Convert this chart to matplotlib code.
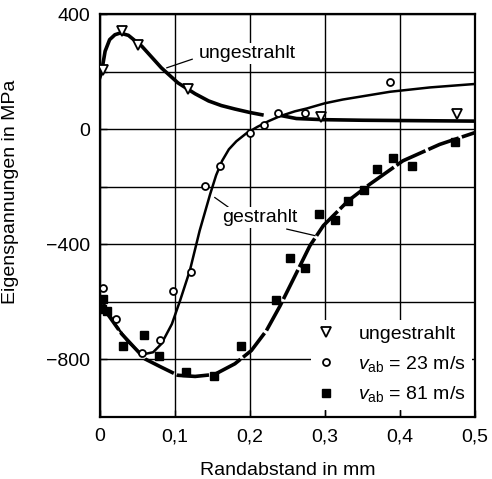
import matplotlib
matplotlib.use("Agg")
import matplotlib.pyplot as plt
from matplotlib.lines import Line2D

plt.rcParams['font.family'] = ['Liberation Sans', 'DejaVu Sans']
plt.rcParams['mathtext.fontset'] = 'custom'
plt.rcParams['mathtext.rm'] = 'Liberation Sans'
plt.rcParams['mathtext.it'] = 'Liberation Sans:italic'

# measured points
ung_x = [0.004, 0.029, 0.051, 0.118, 0.295, 0.476]
ung_y = [207, 340, 294, 138, 43, 54]

v23_x = [0.004, 0.021, 0.056, 0.080, 0.098, 0.121, 0.140, 0.160, 0.200, 0.219, 0.238, 0.273, 0.387]
v23_y = [-553, -661, -777, -731, -561, -497, -199, -128, -15, 13, 55, 57, 164]

v81_x = [0.004, 0.003, 0.010, 0.031, 0.059, 0.079, 0.115, 0.152, 0.188, 0.235, 0.254, 0.274,
         0.292, 0.314, 0.331, 0.352, 0.370, 0.391, 0.416, 0.474]
v81_y = [-590, -625, -630, -752, -715, -789, -842, -859, -755, -595, -449, -484,
         -295, -316, -249, -212, -139, -99, -128, -43]

# fitted curves
ung_c1_x = [0.0, 0.002, 0.007, 0.013, 0.020, 0.027, 0.038, 0.056, 0.082, 0.104, 0.127,
            0.145, 0.162, 0.180, 0.200, 0.216]
ung_c1_y = [180, 195, 271, 311, 328, 334, 326, 288, 213, 161, 123, 98, 82, 70, 58, 50]
ung_c2_x = [0.244, 0.262, 0.298, 0.35, 0.40, 0.45, 0.5]
ung_c2_y = [46, 37, 33, 31, 30, 29, 28]

c23_x = [0.0, 0.002, 0.020, 0.038, 0.056, 0.071, 0.082, 0.096, 0.107, 0.120, 0.133, 0.147,
         0.155, 0.163, 0.172, 0.182, 0.195, 0.210, 0.225, 0.240, 0.260, 0.276, 0.300,
         0.324, 0.387, 0.44, 0.5]
c23_y = [-580, -590, -677, -740, -783, -775, -746, -677, -595, -491, -353, -226,
         -160, -110, -70, -42, -15, 8, 28, 45, 62, 72, 90, 103, 130, 145, 157]

c81_x = [0.0, 0.004, 0.029, 0.060, 0.082, 0.104, 0.127, 0.153, 0.180, 0.202, 0.222, 0.240,
         0.262, 0.280, 0.298, 0.331, 0.360, 0.404, 0.453, 0.5]
c81_y = [-605, -619, -711, -798, -827, -855, -859, -852, -815, -769, -700, -615,
         -500, -405, -335, -249, -191, -110, -53, -12]

x_ticks = [0, 0.1, 0.2, 0.3, 0.4, 0.5]
x_labels = ['0', '0,1', '0,2', '0,3', '0,4', '0,5']
y_ticks = [-800, -600, -400, -200, 0, 200, 400]
y_labels = ['\u2212800', '', '\u2212400', '', '0', '', '400']

fig = plt.figure(figsize=(4.92, 4.79), dpi=100)
ax = fig.add_axes([0.203, 0.1294, 0.7622, 0.8413])

ax.set_xlim(0, 0.5)
ax.set_ylim(-1000, 400)
ax.set_xticks(x_ticks)
ax.set_xticklabels(x_labels)
ax.set_yticks(y_ticks)
ax.set_yticklabels(y_labels)
ax.grid(color='black', lw=1.0, zorder=0)
ax.set_axisbelow(True)
ax.tick_params(axis='both', direction='in', length=5, width=1, labelsize=14)
ax.tick_params(axis='x', pad=8)
ax.tick_params(axis='y', pad=7)
for s in ax.spines.values():
    s.set_linewidth(1.6)

ax.set_xlabel('Randabstand in mm', fontsize=14, labelpad=12)
ax.set_ylabel('Eigenspannungen in MPa', fontsize=14)
ax.yaxis.set_label_coords(-0.215, 0.558)

# curves
ax.plot(ung_c1_x, ung_c1_y, color='black', lw=2.6, zorder=3)
ax.plot(ung_c2_x, ung_c2_y, color='black', lw=2.6, zorder=3)
ax.plot(c23_x, c23_y, color='black', lw=1.8, zorder=3)
ax.plot(c81_x, c81_y, color='black', lw=2.6, ls=(0, (9, 0.9)), zorder=3)

# points
ax.plot(ung_x, ung_y, 'v', ms=7.5, mfc='white', mec='black', mew=1.3, zorder=4)
ax.plot(v23_x, v23_y, 'o', ms=5, mfc='white', mec='black', mew=1.3, zorder=4)
ax.plot(v81_x, v81_y, 's', ms=5.5, mfc='black', mec='black', zorder=4)

# labels on the curves
ax.annotate('ungestrahlt', xy=(0.089, 213), xytext=(0.196, 262), fontsize=14,
            ha='center', va='center', zorder=2,
            bbox=dict(boxstyle='square,pad=0.1', fc='white', ec='none'),
            arrowprops=dict(arrowstyle='-', color='black', lw=0.9, shrinkA=3, shrinkB=0,
                            relpos=(0.0, 0.3)))
ax.annotate('gestrahlt', xy=(0.153, -237), xytext=(0.213, -307), fontsize=14,
            ha='center', va='center', zorder=2,
            bbox=dict(boxstyle='square,pad=0.1', fc='white', ec='none'),
            arrowprops=dict(arrowstyle='-', color='black', lw=0.9, shrinkA=0, shrinkB=0,
                            relpos=(0.12, 1.0)))
ax.annotate('', xy=(0.287, -370), xytext=(0.249, -347), zorder=2,
            arrowprops=dict(arrowstyle='-', color='black', lw=0.9, shrinkA=0, shrinkB=0))

handles = [
    Line2D([], [], ls='none', marker='v', ms=7.5, mfc='white', mec='black', mew=1.3),
    Line2D([], [], ls='none', marker='o', ms=5, mfc='white', mec='black', mew=1.3),
    Line2D([], [], ls='none', marker='s', ms=5.5, mfc='black', mec='black'),
]
labels = ['ungestrahlt', '$v_{\\mathrm{ab}}$ = 23 m/s', '$v_{\\mathrm{ab}}$ = 81 m/s']
leg = ax.legend(handles, labels, loc='lower right', bbox_to_anchor=(0.992, 0.017),
                fontsize=14, frameon=True, fancybox=False, framealpha=1,
                edgecolor='none', facecolor='white', handlelength=1.0,
                handletextpad=1.15, labelspacing=0.55, borderpad=0.3, borderaxespad=0)
leg.set_zorder(2)

fig.savefig('out.png', dpi=100)
